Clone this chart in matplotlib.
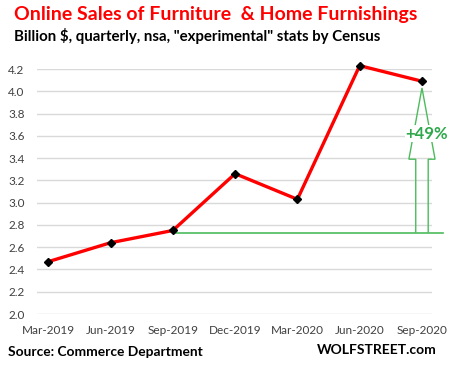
import matplotlib.pyplot as plt
from matplotlib.patches import Polygon

# quarterly online sales, billion $
quarters = ["Mar-2019", "Jun-2019", "Sep-2019", "Dec-2019", "Mar-2020", "Jun-2020", "Sep-2020"]
sales = [2.47, 2.64, 2.75, 3.26, 3.03, 4.23, 4.09]
y_ticks = [2.0, 2.2, 2.4, 2.6, 2.8, 3.0, 3.2, 3.4, 3.6, 3.8, 4.0, 4.2]
baseline = 2.73
change_label = "+49%"

plt.rcParams['font.family'] = ['Lato', 'DejaVu Sans']

fig = plt.figure(figsize=(4.49, 3.68), dpi=100)
ax = fig.add_axes([0.0824, 0.1467, 0.8796, 0.6658])

x = list(range(len(quarters)))
ax.plot(x, sales, color="#ff0000", lw=2.4, zorder=3, clip_on=False,
        marker="D", markersize=4.5, markerfacecolor="black", markeredgecolor="black")

ax.set_xlim(-0.18, len(quarters) - 1 + 0.16)
ax.set_ylim(2.0, 4.2)
ax.set_yticks(y_ticks)
ax.set_yticklabels([f"{v:.1f}" for v in y_ticks])
ax.set_xticks(x)
ax.set_xticklabels(quarters)
ax.grid(axis="y", color="#d9d9d9", lw=1)
ax.set_axisbelow(True)
for s in ax.spines.values():
    s.set_visible(False)
ax.tick_params(length=0, labelsize=8.5, colors="#404040")
ax.tick_params(axis="y", pad=9)
ax.tick_params(axis="x", pad=8)

# green baseline from Sep-2019 out past the last point
green = "#4cbb5c"
ax.plot([2, len(quarters) - 1 + 0.34], [baseline, baseline], color=green, lw=1.2,
        zorder=2, clip_on=False)

# hollow arrow up to the last point
xc = len(quarters) - 1
hw, sw = 0.21, 0.1
head_base, tip = 3.39, 4.03
arrow = Polygon([(xc - sw, baseline), (xc - sw, head_base), (xc - hw, head_base), (xc, tip),
                 (xc + hw, head_base), (xc + sw, head_base), (xc + sw, baseline)],
                closed=False, fill=False, edgecolor=green, lw=1, zorder=2, clip_on=False)
ax.add_patch(arrow)
ax.text(xc + 0.08, 3.62, change_label, color="#2ea84a", fontsize=12, fontweight="bold",
        ha="center", va="center", zorder=4,
        bbox=dict(facecolor="white", edgecolor="none", pad=0.5))

fig.text(0.031, 0.96, "Online Sales of Furniture  & Home Furnishings", color="#ff0000",
         fontsize=14, fontweight="bold", va="center")
fig.text(0.031, 0.902, 'Billion $, quarterly, nsa, "experimental" stats by Census',
         color="black", fontsize=10.8, fontweight="bold", va="center")
fig.text(0.018, 0.043, "Source: Commerce Department", color="black",
         fontsize=9.9, fontweight="bold", va="center")
fig.text(0.973, 0.048, "WOLFSTREET.com", color="black",
         fontsize=10, fontweight="bold", va="center", ha="right")

fig.savefig("out.png", dpi=100)
